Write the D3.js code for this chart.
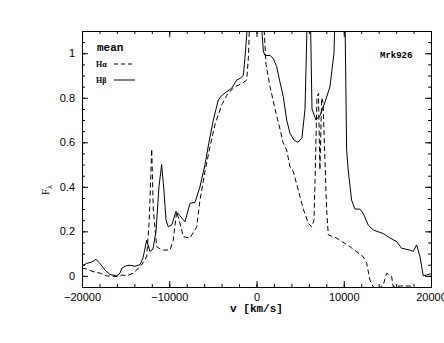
<!DOCTYPE html>
<html>
<head>
<meta charset="utf-8">
<script src="https://cdn.jsdelivr.net/npm/d3@7"></script>
<style>
  body { margin: 0; background: #fff; }
  text { font-family: "Liberation Sans", Arial, sans-serif; }
</style>
</head>
<body>
<script>
// velocity grid (km/s) and mean normalized profiles
var haVel = [-20000,-19400,-18740,-17900,-17170,-16020,-15400,-14880,-14120,-13160,-12590,-12290,-12010,-11830,-11440,-10870,-9920,-9540,-9150,-8770,-8390,-7620,-6850,-6480,
  -5900,-5330,-4760,-3960,-3270,-2470,-1890,-1430,-1120,-930,-740,-200,300,750,1090,1550,2120,2690,3040,3460,3840,4220,4990,5360,5940,6320,6590,
  6700,6930,7100,7270,7470,7620,8040,8230,9180,10710,12240,12630,13010,13390,13930,14530,14920,15490,15680,16500,17500,18500,20000];
var haFlux = [0.034,0.03,0.019,0.012,0.0,-0.003,0.004,0.0,0.012,0.049,0.086,0.25,0.57,0.30,0.131,0.116,0.116,0.16,0.288,0.236,0.176,0.17,0.22,0.34,
  0.47,0.58,0.68,0.77,0.82,0.85,0.86,0.87,0.88,0.98,1.2,1.6,1.6,1.2,0.95,0.85,0.75,0.66,0.60,0.565,0.49,0.468,0.356,0.30,0.236,0.22,0.25,
  0.416,0.80,0.82,0.476,0.80,0.78,0.296,0.184,0.17,0.131,0.086,0.056,-0.02,-0.05,-0.06,-0.04,0.012,-0.003,-0.05,-0.045,-0.045,-0.06,-0.06];

var hbVel = [-20000,-19460,-18890,-18400,-17940,-17360,-16790,-16020,-15650,-15420,-14960,-14500,-13930,-13350,-13010,-12590,-12210,-11870,-11520,-11180,-10870,
  -10600,-10370,-10110,-9690,-9230,-8770,-8200,-7620,-7050,-6480,-5900,-5450,-4950,-4380,-3990,-3420,-2840,-2270,-1890,-1510,-1320,-1050,-300,300,
  590,780,970,1550,1920,2310,2690,3070,3460,3840,4300,4750,5210,5560,5790,6000,6200,6360,6820,7280,7850,8420,8880,9100,9600,10100,
  10330,10510,10900,11290,11860,12240,12810,13380,13960,14530,15300,16060,16640,17590,17970,18350,18740,19110,19500,20000];
var hbFlux = [0.045,0.056,0.062,0.074,0.056,0.026,0.006,0.0,0.012,0.035,0.045,0.048,0.043,0.05,0.08,0.16,0.11,0.12,0.2,0.4,0.50,
  0.38,0.25,0.22,0.23,0.29,0.27,0.243,0.326,0.33,0.40,0.50,0.60,0.70,0.79,0.81,0.827,0.843,0.88,0.887,0.90,0.98,1.12,1.6,1.6,
  1.12,1.01,0.99,0.99,0.977,0.94,0.87,0.805,0.70,0.64,0.61,0.60,0.62,0.75,1.12,1.6,1.12,0.75,0.70,0.72,0.78,0.85,1.0,1.3,1.6,1.3,
  0.565,0.476,0.34,0.30,0.30,0.28,0.228,0.206,0.198,0.19,0.17,0.154,0.124,0.116,0.11,0.139,0.086,0.0,0.004,0.01];

var xTicks = [-20000, -10000, 0, 10000, 20000];
var yTicks = [0, 0.2, 0.4, 0.6, 0.8, 1];

var width = 444, height = 343;
var margin = {left: 82, top: 31, right: 13, bottom: 56};

var svg = d3.select("body").append("svg")
  .attr("width", width)
  .attr("height", height);

var x = d3.scaleLinear()
  .domain([-20000, 20000])
  .range([margin.left, width - margin.right]);

var y = d3.scaleLinear()
  .domain([-0.05, 1.1])
  .range([height - margin.bottom, margin.top]);

svg.append("clipPath").attr("id", "plot")
  .append("rect")
  .attr("x", x(-20000)).attr("y", y(1.1))
  .attr("width", x(20000) - x(-20000))
  .attr("height", y(-0.05) - y(1.1));

// axes: major + minor ticks on all sides, pointing inward
function styleAxis(g) {
  g.select(".domain").attr("stroke", "#000");
  g.selectAll(".tick line").attr("stroke", "#000");
  g.selectAll(".tick text").attr("fill", "#000").style("font-size", "11px")
    .style("font-family", "'Liberation Sans', Arial, sans-serif");
}

var xMinor = d3.range(-20000, 20001, 2000);
var yMinor = d3.range(-0.05, 1.1, 0.05);

svg.append("g")
  .attr("transform", `translate(0,${y(-0.05)})`)
  .call(d3.axisBottom(x).tickValues(xMinor).tickSize(-3).tickFormat(""))
  .call(styleAxis);
svg.append("g")
  .attr("transform", `translate(0,${y(-0.05)})`)
  .call(d3.axisBottom(x).tickValues(xTicks).tickSize(-6).tickPadding(6).tickFormat(d3.format("d")))
  .call(styleAxis);
svg.append("g")
  .attr("transform", `translate(0,${y(1.1)})`)
  .call(d3.axisTop(x).tickValues(xMinor).tickSize(-3).tickFormat(""))
  .call(styleAxis);
svg.append("g")
  .attr("transform", `translate(0,${y(1.1)})`)
  .call(d3.axisTop(x).tickValues(xTicks).tickSize(-6).tickFormat(""))
  .call(styleAxis);

svg.append("g")
  .attr("transform", `translate(${x(-20000)},0)`)
  .call(d3.axisLeft(y).tickValues(yMinor).tickSize(-3).tickFormat(""))
  .call(styleAxis);
svg.append("g")
  .attr("transform", `translate(${x(-20000)},0)`)
  .call(d3.axisLeft(y).tickValues(yTicks).tickSize(-6).tickPadding(7).tickFormat(d => d == 0 || d == 1 ? d : d3.format(".1f")(d)))
  .call(styleAxis);
svg.append("g")
  .attr("transform", `translate(${x(20000)},0)`)
  .call(d3.axisRight(y).tickValues(yMinor).tickSize(-3).tickFormat(""))
  .call(styleAxis);
svg.append("g")
  .attr("transform", `translate(${x(20000)},0)`)
  .call(d3.axisRight(y).tickValues(yTicks).tickSize(-6).tickFormat(""))
  .call(styleAxis);

// profiles
var line = d3.line()
  .x(d => x(d[0]))
  .y(d => y(d[1]));

var plot = svg.append("g").attr("clip-path", "url(#plot)");

plot.append("path")
  .datum(d3.zip(haVel, haFlux))
  .attr("fill", "none")
  .attr("stroke", "#000")
  .attr("stroke-width", 1)
  .attr("stroke-dasharray", "5,3")
  .attr("d", line);

plot.append("path")
  .datum(d3.zip(hbVel, hbFlux))
  .attr("fill", "none")
  .attr("stroke", "#000")
  .attr("stroke-width", 1)
  .attr("d", line);

// labels
svg.append("text")
  .attr("x", x(0))
  .attr("y", 312)
  .attr("text-anchor", "middle")
  .style("font-family", "'Liberation Mono', monospace")
  .style("font-weight", "bold")
  .style("font-size", "11px")
  .text("v [km/s]");

var ylab = svg.append("text")
  .attr("transform", "translate(49,190) rotate(-90)")
  .attr("text-anchor", "middle")
  .style("font-family", "'Liberation Serif', serif")
  .style("font-size", "11px");
ylab.append("tspan").text("F");
ylab.append("tspan").attr("dy", 3).style("font-size", "8px").text("λ");

svg.append("text")
  .attr("x", 97).attr("y", 51)
  .style("font-family", "'Liberation Mono', monospace")
  .style("font-weight", "bold")
  .style("font-size", "11px")
  .text("mean");

svg.append("text")
  .attr("x", 96).attr("y", 67)
  .style("font-family", "'Liberation Serif', serif")
  .style("font-weight", "bold")
  .style("font-size", "8px")
  .text("Hα");
svg.append("line")
  .attr("x1", 114).attr("x2", 135).attr("y1", 64).attr("y2", 64)
  .attr("stroke", "#000").attr("stroke-dasharray", "4,3");

svg.append("text")
  .attr("x", 96).attr("y", 83)
  .style("font-family", "'Liberation Serif', serif")
  .style("font-weight", "bold")
  .style("font-size", "8px")
  .text("Hβ");
svg.append("line")
  .attr("x1", 114).attr("x2", 135).attr("y1", 80).attr("y2", 80)
  .attr("stroke", "#000");

svg.append("text")
  .attr("x", 380).attr("y", 58)
  .style("font-family", "'Liberation Mono', monospace")
  .style("font-weight", "bold")
  .style("font-size", "9px")
  .text("Mrk926");
</script>
</body>
</html>
